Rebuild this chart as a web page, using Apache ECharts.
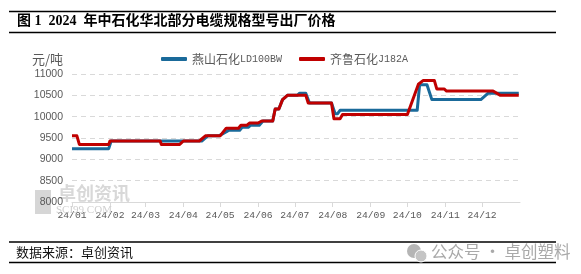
<!DOCTYPE html>
<html>
<head>
<meta charset="utf-8">
<script src="https://cdn.jsdelivr.net/npm/echarts@6/dist/echarts.min.js"></script>
<style>
html,body{margin:0;padding:0;background:#fff;}
#c{width:581px;height:274px;}
</style>
</head>
<body>
<div id="c"></div>
<script>
// ---- data ----
const seriesNames = ['燕山石化LD100BW', '齐鲁石化J182A'];
const blueDates = ['2024-01-01','2024-01-31','2024-02-02','2024-04-16','2024-04-21','2024-04-30','2024-05-08','2024-05-17','2024-05-19','2024-05-24','2024-05-26','2024-06-02','2024-06-05','2024-06-13','2024-06-15','2024-06-18','2024-06-21','2024-06-25','2024-07-03','2024-07-05','2024-07-10','2024-07-13','2024-07-31','2024-08-03','2024-08-05','2024-08-07','2024-10-09','2024-10-11','2024-10-17','2024-10-21','2024-11-30','2024-12-06','2024-12-31'];
const blueValues = [9250,9250,9430,9430,9550,9550,9680,9680,9750,9750,9800,9800,9900,9900,10180,10180,10400,10500,10500,10550,10550,10320,10320,10070,10070,10150,10150,10750,10750,10400,10400,10550,10550];
const redDates = ['2024-01-01','2024-01-05','2024-01-07','2024-01-31','2024-02-01','2024-03-13','2024-03-14','2024-03-29','2024-04-01','2024-04-14','2024-04-19','2024-05-01','2024-05-06','2024-05-16','2024-05-18','2024-05-23','2024-05-25','2024-06-01','2024-06-04','2024-06-13','2024-06-15','2024-06-18','2024-06-21','2024-06-25','2024-07-10','2024-07-12','2024-07-31','2024-08-02','2024-08-07','2024-08-09','2024-10-01','2024-10-10','2024-10-14','2024-10-23','2024-10-25','2024-10-31','2024-11-02','2024-12-10','2024-12-16','2024-12-31'];
const redValues = [9550,9550,9350,9350,9430,9430,9350,9350,9430,9430,9550,9550,9730,9730,9800,9800,9850,9850,9900,9900,10180,10180,10400,10500,10500,10320,10320,9950,9950,10050,10050,10760,10850,10850,10650,10650,10600,10600,10500,10500];
const tickDates = ['2024-01-01','2024-02-01','2024-03-01','2024-04-01','2024-05-01','2024-06-01','2024-07-01','2024-08-01','2024-09-01','2024-10-01','2024-11-01','2024-12-01'];
const tickLabels = ['24/01','24/02','24/03','24/04','24/05','24/06','24/07','24/08','24/09','24/10','24/11','24/12'];
const yTicks = {min: 8000, max: 11000, interval: 500};

// ---- helpers ----
const DAY = 86400000;
const BASE = Date.UTC(2024, 0, 1);
function dayIndex(s) {
  const p = s.split('-').map(Number);
  return Math.round((Date.UTC(p[0], p[1] - 1, p[2]) - BASE) / DAY);
}
const tickDays = tickDates.map(dayIndex);
const blueData = blueDates.map((d, i) => [dayIndex(d), blueValues[i]]);
const redData = redDates.map((d, i) => [dayIndex(d), redValues[i]]);

const chart = echarts.init(document.getElementById('c'), null, {renderer: 'canvas'});
const gray = '#595959';
const cjk = "'Noto Sans CJK SC'";

const option = {
  animation: false,
  backgroundColor: '#fff',
  title: {
    text: '图 1  2024  年中石化华北部分电缆规格型号出厂价格',
    left: 17, top: 14,
    padding: 0,
    textStyle: {
      fontFamily: "'Liberation Serif', 'Noto Sans CJK SC'",
      fontWeight: 'bold', fontSize: 14, color: '#000'
    }
  },
  legend: {
    left: 161, top: 53,
    itemWidth: 26, itemHeight: 4,
    itemGap: 17,
    icon: 'roundRect',
    padding: 0,
    data: seriesNames,
    formatter: function (name) {
      const m = name.match(/^([^A-Za-z]+)(.*)$/);
      return '{c|' + m[1] + '}{e|' + m[2] + '}';
    },
    textStyle: {
      color: gray,
      rich: {
        c: {fontFamily: cjk, fontSize: 12, color: gray},
        e: {fontFamily: "'Liberation Mono'", fontSize: 10, color: gray}
      }
    }
  },
  grid: {left: 72, right: 61, top: 74, bottom: 72, containLabel: false},
  xAxis: {
    type: 'value',
    min: 0, max: 366,
    splitLine: {show: false},
    axisLine: {show: true, lineStyle: {color: '#d9d9d9', width: 1}},
    axisTick: {show: true, customValues: tickDays, length: 5, lineStyle: {color: '#d9d9d9'}},
    axisLabel: {
      customValues: tickDays,
      formatter: function (v) { const i = tickDays.indexOf(v); return i >= 0 ? tickLabels[i] : ''; },
      fontFamily: "'Liberation Mono'", fontSize: 9.7, color: gray, margin: 8
    }
  },
  yAxis: {
    type: 'value',
    min: yTicks.min, max: yTicks.max, interval: yTicks.interval,
    name: '元/吨',
    nameLocation: 'end',
    nameGap: 8,
    nameTextStyle: {fontFamily: cjk, fontSize: 13, color: gray, align: 'right', padding: [0, 9, 0, 0]},
    axisLine: {show: false},
    axisTick: {show: false},
    axisLabel: {
      formatter: function (v) { return String(v); },
      fontFamily: "'Liberation Sans'", fontSize: 10.5, color: gray, margin: 9
    },
    splitLine: {show: true, lineStyle: {color: '#d9d9d9', type: [5, 4], width: 1}}
  },
  graphic: [
    {type: 'line', shape: {x1: 9, y1: 11.5, x2: 556, y2: 11.5}, style: {stroke: '#000', lineWidth: 1.3}},
    {type: 'line', shape: {x1: 9, y1: 32.5, x2: 556, y2: 32.5}, style: {stroke: '#000', lineWidth: 1.3}},
    {type: 'line', shape: {x1: 9, y1: 242, x2: 556, y2: 242}, style: {stroke: '#000', lineWidth: 1.3}},
    {type: 'line', shape: {x1: 9, y1: 262.5, x2: 556, y2: 262.5}, style: {stroke: '#000', lineWidth: 1.3}},
    {type: 'text', left: 16, top: 246, style: {text: '数据来源：卓创资讯', font: "13px 'Noto Sans CJK SC'", fill: '#111'}},
    // in-plot watermark
    {type: 'rect', shape: {x: 35, y: 190, width: 16, height: 24}, style: {fill: '#d6d6d6'}, z: -1},
    {type: 'text', left: 58, top: 184, style: {text: '卓创资讯', font: "bold 18px 'Noto Sans CJK SC'", fill: '#d8d8d8'}, z: -1},
    {type: 'text', left: 56, top: 205, style: {text: 'SCI99.COM', font: "11px 'Liberation Serif'", fill: '#d0d0d0'}, z: 10},
    // wechat watermark
    {type: 'circle', shape: {cx: 414, cy: 251, r: 7}, style: {fill: '#b5b5b5'}},
    {type: 'circle', shape: {cx: 421, cy: 256, r: 6}, style: {fill: '#c4c4c4', stroke: '#fff', lineWidth: 1}},
    {type: 'text', left: 431, top: 243, style: {text: '公众号 · 卓创塑料', font: "16.5px 'Noto Sans CJK SC'", fill: '#a9a9a9'}}
  ],
  series: [
    {
      name: seriesNames[0], type: 'line', data: blueData,
      showSymbol: false, symbol: 'none',
      itemStyle: {color: '#1a6a9a'},
      lineStyle: {color: '#1a6a9a', width: 3, join: 'round'},
      z: 2
    },
    {
      name: seriesNames[1], type: 'line', data: redData,
      showSymbol: false, symbol: 'none',
      itemStyle: {color: '#c00000'},
      lineStyle: {color: '#c00000', width: 3, join: 'round'},
      z: 3
    }
  ]
};
chart.setOption(option);
</script>
</body>
</html>
